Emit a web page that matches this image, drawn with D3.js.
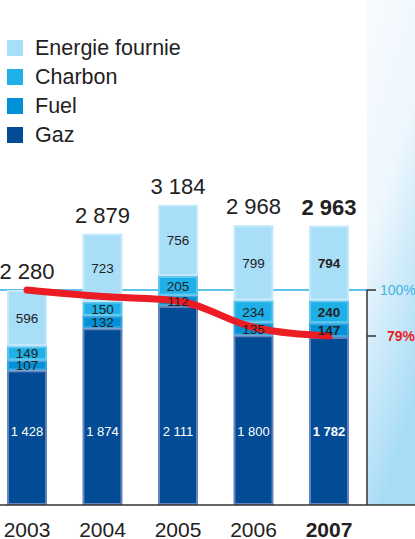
<!DOCTYPE html>
<html>
<head>
<meta charset="utf-8">
<script src="https://cdn.jsdelivr.net/npm/d3@7"></script>
<style>
  html, body { margin: 0; padding: 0; background: #fff; }
  svg { display: block; font-family: "Liberation Sans", Arial, Helvetica, sans-serif; }
</style>
</head>
<body>
<svg id="chart" width="415" height="539"></svg>
<script>
var years = ['2003', '2004', '2005', '2006', '2007'],
    seriesNames = ['Gaz', 'Fuel', 'Charbon', 'Energie fournie'],
    gaz = [1428, 1874, 2111, 1800, 1782],
    fuel = [107, 132, 112, 135, 147],
    charbon = [149, 150, 205, 234, 240],
    energie = [596, 723, 756, 799, 794],
    totals = ['2 280', '2 879', '3 184', '2 968', '2 963'],
    gazLabels = ['1 428', '1 874', '2 111', '1 800', '1 782'],
    ratio = [100, 97, 95, 83, 79],
    pctTicks = [100, 79];

var colors = {
  'Gaz': { fill: '#024c96', edge: '#6583bd' },
  'Fuel': { fill: '#0091d6', edge: '#3aa6de' },
  'Charbon': { fill: '#1eb0e6', edge: '#5cc6ee' },
  'Energie fournie': { fill: '#a9def8', edge: '#c6eafb' }
};

var svg = d3.select('#chart'),
    baseY = 505,
    panelX = 367;

var x = d3.scaleBand().domain(years).range([7, 349]).paddingInner(0.47).paddingOuter(0),
    y = d3.scaleLinear().domain([0, 2280]).range([baseY, 290]),
    pct = d3.scaleLinear().domain([79, 100]).range([336, 290]);

// right-hand panel with its soft gradient
var grad = svg.append('defs').append('linearGradient')
  .attr('id', 'panelGrad').attr('x1', 0).attr('y1', 0).attr('x2', 0.3).attr('y2', 1);
grad.append('stop').attr('offset', '0%').attr('stop-color', '#f8fbfe');
grad.append('stop').attr('offset', '45%').attr('stop-color', '#eef7fd');
grad.append('stop').attr('offset', '100%').attr('stop-color', '#a8dcf6');

svg.append('rect')
  .attr('x', panelX).attr('y', 0)
  .attr('width', 415 - panelX).attr('height', baseY)
  .attr('fill', 'url(#panelGrad)');

// 100% reference line, behind the bars
svg.append('line')
  .attr('x1', 0).attr('x2', panelX)
  .attr('y1', pct(100)).attr('y2', pct(100))
  .attr('stroke', '#5ec2ec').attr('stroke-width', 2);

// stack the series
var rows = years.map(function(yr, i) {
  return { year: yr, 'Gaz': gaz[i], 'Fuel': fuel[i], 'Charbon': charbon[i], 'Energie fournie': energie[i] };
});
var stacked = d3.stack().keys(seriesNames)(rows);

var layers = svg.append('g').selectAll('g')
  .data(stacked)
  .enter().append('g');

layers.selectAll('rect')
  .data(function(d) { return d.map(function(p) { return { key: d.key, p: p }; }); })
  .enter().append('rect')
    .attr('x', function(d) { return x(d.p.data.year) + 1; })
    .attr('y', function(d) { return y(d.p[1]) + 1; })
    .attr('width', x.bandwidth() - 2)
    .attr('height', function(d) { return Math.max(0, y(d.p[0]) - y(d.p[1]) - 2); })
    .attr('fill', function(d) { return colors[d.key].fill; })
    .attr('stroke', function(d) { return colors[d.key].edge; })
    .attr('stroke-width', 2);

// ratio line
var line = d3.line()
  .x(function(d, i) { return x(years[i]) + x.bandwidth() / 2; })
  .y(function(d) { return pct(d); })
  .curve(d3.curveMonotoneX);

svg.append('path')
  .datum(ratio)
  .attr('d', line)
  .attr('fill', 'none')
  .attr('stroke', '#ec1c24')
  .attr('stroke-width', 7)
  .attr('stroke-linecap', 'round');

// segment labels (above the line)
var isLast = function(yr) { return yr === '2007'; };

stacked.filter(function(s) { return s.key !== 'Gaz'; }).forEach(function(s) {
  svg.append('g').selectAll('text')
    .data(s)
    .enter().append('text')
      .attr('x', function(p) { return x(p.data.year) + x.bandwidth() / 2; })
      .attr('y', function(p) { return (y(p[0]) + y(p[1])) / 2 + 5; })
      .attr('text-anchor', 'middle')
      .attr('font-size', 13.5)
      .attr('font-weight', function(p) { return isLast(p.data.year) ? 'bold' : 'normal'; })
      .attr('fill', '#222')
      .text(function(p) { return p[1] - p[0]; });
});

svg.append('g').selectAll('text')
  .data(years)
  .enter().append('text')
    .attr('x', function(d) { return x(d) + x.bandwidth() / 2; })
    .attr('y', y(780) + 5)
    .attr('text-anchor', 'middle')
    .attr('font-size', 13)
    .attr('font-weight', function(d) { return isLast(d) ? 'bold' : 'normal'; })
    .attr('fill', '#fff')
    .text(function(d, i) { return gazLabels[i]; });

// totals above bars
svg.append('g').selectAll('text')
  .data(years)
  .enter().append('text')
    .attr('x', function(d) { return x(d) + x.bandwidth() / 2; })
    .attr('y', function(d, i) { return y(gaz[i] + fuel[i] + charbon[i] + energie[i]) - 11; })
    .attr('text-anchor', 'middle')
    .attr('font-size', 22)
    .attr('font-weight', function(d) { return isLast(d) ? 'bold' : 'normal'; })
    .attr('fill', '#222')
    .text(function(d, i) { return totals[i]; });

// baseline and year labels
svg.append('line')
  .attr('x1', 0).attr('x2', 415)
  .attr('y1', baseY).attr('y2', baseY)
  .attr('stroke', '#333').attr('stroke-width', 1.5);

svg.append('g').selectAll('text')
  .data(years)
  .enter().append('text')
    .attr('x', function(d) { return x(d) + x.bandwidth() / 2; })
    .attr('y', 537)
    .attr('text-anchor', 'middle')
    .attr('font-size', 21)
    .attr('font-weight', function(d) { return isLast(d) ? 'bold' : 'normal'; })
    .attr('fill', '#222')
    .text(function(d) { return d; });

// percentage axis on the right
svg.append('line')
  .attr('x1', panelX).attr('x2', panelX)
  .attr('y1', pct(100)).attr('y2', baseY)
  .attr('stroke', '#333').attr('stroke-width', 1.5);

var pctG = svg.append('g').selectAll('g')
  .data(pctTicks)
  .enter().append('g')
    .attr('transform', function(d) { return 'translate(' + panelX + ',' + pct(d) + ')'; });

pctG.append('line')
  .attr('x2', 9)
  .attr('stroke', '#333').attr('stroke-width', 1.5);

pctG.append('text')
  .attr('x', function(d) { return d === 100 ? 13 : 20; })
  .attr('dy', '0.36em')
  .attr('font-size', 14)
  .attr('font-weight', function(d) { return d === 100 ? 'normal' : 'bold'; })
  .attr('fill', function(d) { return d === 100 ? '#3fb4e6' : '#ec1c24'; })
  .text(function(d) { return d + '%'; });

// legend (top first)
var legendNames = seriesNames.slice().reverse();
var legend = svg.append('g').selectAll('g')
  .data(legendNames)
  .enter().append('g')
    .attr('transform', function(d, i) { return 'translate(7,' + (40 + i * 29) + ')'; });

legend.append('rect')
  .attr('width', 16).attr('height', 16)
  .attr('fill', function(d) { return colors[d].fill; });

legend.append('text')
  .attr('x', 28).attr('y', 15)
  .attr('font-size', 21.5)
  .attr('fill', '#222')
  .text(function(d) { return d; });
</script>
</body>
</html>
